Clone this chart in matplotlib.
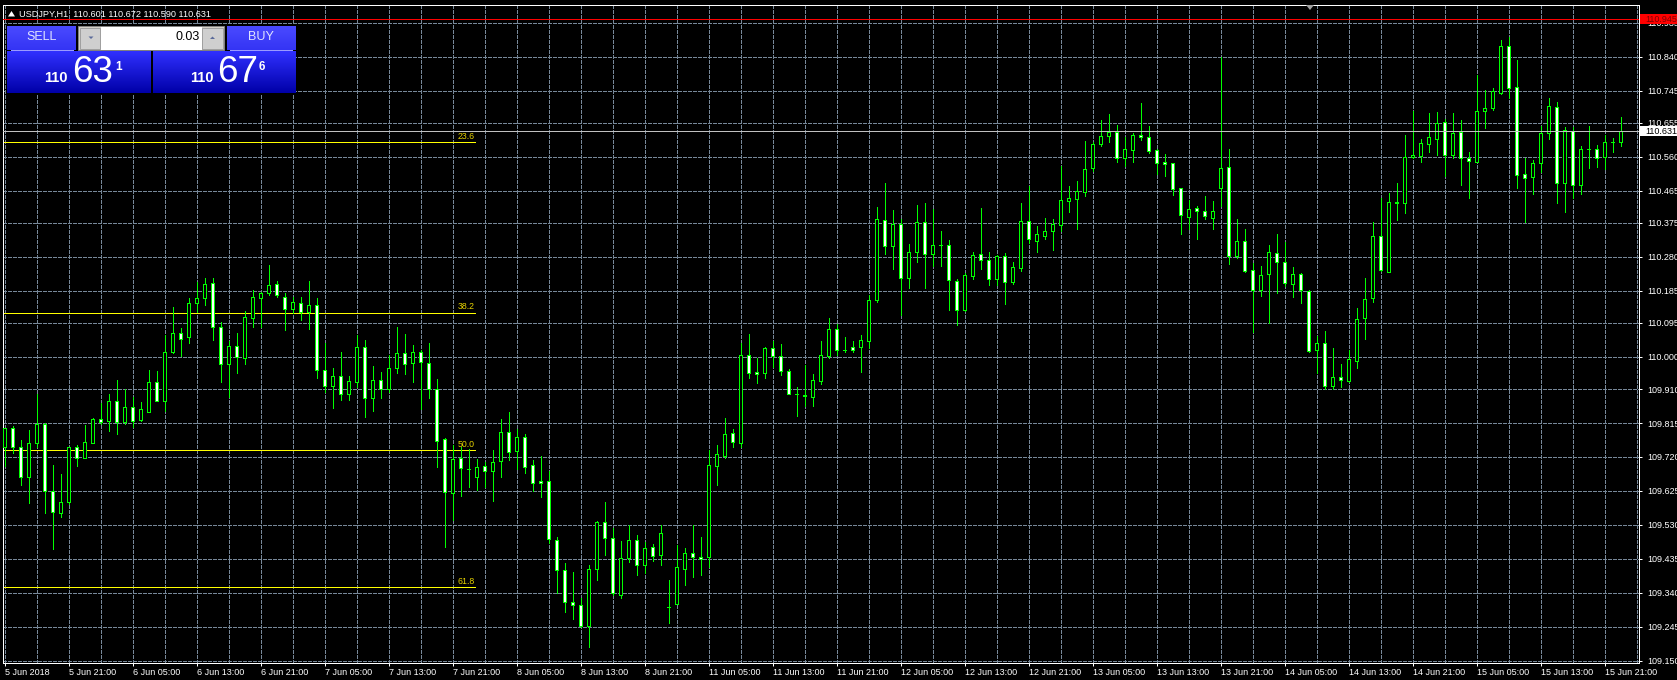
import matplotlib
matplotlib.use('Agg')
import matplotlib.pyplot as plt
from matplotlib.patches import Rectangle, Polygon
from matplotlib.transforms import blended_transform_factory
import numpy as np

plt.rcParams['font.family'] = ['Liberation Sans', 'DejaVu Sans']

# ---------------- data (USDJPY H1, 5 Jun 13:00 .. 15 Jun 23:00) ----------------
opens = [109.748, 109.800, 109.747, 109.664, 109.758, 109.811, 109.626, 109.564, 109.595, 109.747,
         109.717, 109.760, 109.827, 109.821, 109.878, 109.817, 109.859, 109.824, 109.846, 109.930,
         109.878, 110.013, 110.066, 110.055, 110.150, 110.164, 110.206, 110.083, 109.979, 110.030,
         109.996, 110.108, 110.164, 110.178, 110.203, 110.169, 110.133, 110.152, 110.127, 110.145,
         109.963, 109.919, 109.946, 109.895, 109.930, 110.029, 109.884, 109.935, 109.911, 109.970,
         110.010, 109.982, 110.013, 109.982, 109.909, 109.769, 109.618, 109.716, 109.687, 109.664,
         109.695, 109.682, 109.710, 109.791, 109.738, 109.776, 109.698, 109.652, 109.652, 109.489,
         109.405, 109.313, 109.307, 109.247, 109.408, 109.537, 109.492, 109.335, 109.436, 109.489,
         109.417, 109.467, 109.445, 109.300, 109.308, 109.408, 109.451, 109.439, 109.439, 109.696,
         109.724, 109.786, 109.760, 110.005, 109.957, 109.954, 110.024, 110.002, 109.960, 109.897,
         109.893, 109.889, 109.934, 110.003, 110.077, 110.020, 110.027, 110.027, 110.044, 110.158,
         110.382, 110.310, 110.371, 110.220, 110.293, 110.377, 110.287, 110.312, 110.312, 110.212,
         110.131, 110.227, 110.287, 110.270, 110.217, 110.283, 110.211, 110.250, 110.380, 110.325,
         110.339, 110.351, 110.368, 110.435, 110.441, 110.461, 110.528, 110.595, 110.619, 110.630,
         110.556, 110.578, 110.622, 110.616, 110.578, 110.545, 110.542, 110.472, 110.392, 110.416,
         110.408, 110.390, 110.474, 110.531, 110.282, 110.323, 110.242, 110.186, 110.231, 110.290,
         110.265, 110.203, 110.231, 110.184, 110.019, 110.038, 109.919, 109.945, 109.933, 109.989,
         110.108, 110.164, 110.337, 110.238, 110.434, 110.430, 110.559, 110.563, 110.595, 110.609,
         110.656, 110.564, 110.630, 110.556, 110.546, 110.687, 110.697, 110.739, 110.869, 110.754,
         110.511, 110.503, 110.542, 110.626, 110.699, 110.486, 110.631, 110.480, 110.583, 110.583,
         110.559, 110.602, 110.601]
highs = [109.801, 109.806, 109.767, 109.795, 109.896, 109.816, 109.697, 109.672, 109.748, 109.753,
         109.809, 109.828, 109.870, 109.896, 109.935, 109.909, 109.889, 109.873, 109.963, 109.960,
         110.060, 110.140, 110.080, 110.164, 110.211, 110.220, 110.220, 110.097, 110.045, 110.066,
         110.128, 110.187, 110.183, 110.257, 110.212, 110.178, 110.167, 110.167, 110.212, 110.164,
         110.038, 109.968, 110.013, 109.946, 110.061, 110.047, 109.975, 109.957, 110.005, 110.084,
         110.064, 110.034, 110.019, 110.038, 109.938, 109.774, 109.753, 109.748, 109.741, 109.713,
         109.707, 109.739, 109.826, 109.846, 109.798, 109.785, 109.711, 109.724, 109.681, 109.497,
         109.423, 109.398, 109.325, 109.418, 109.540, 109.594, 109.520, 109.486, 109.531, 109.501,
         109.483, 109.477, 109.531, 109.375, 109.474, 109.466, 109.530, 109.497, 109.739, 109.753,
         109.829, 109.797, 110.038, 110.064, 109.996, 110.029, 110.045, 110.036, 109.966, 109.915,
         109.977, 109.952, 110.045, 110.108, 110.092, 110.055, 110.045, 110.061, 110.173, 110.420,
         110.486, 110.411, 110.385, 110.316, 110.425, 110.430, 110.413, 110.352, 110.327, 110.217,
         110.236, 110.293, 110.417, 110.293, 110.285, 110.290, 110.266, 110.430, 110.479, 110.366,
         110.389, 110.385, 110.534, 110.478, 110.493, 110.604, 110.602, 110.663, 110.680, 110.649,
         110.615, 110.626, 110.710, 110.646, 110.582, 110.568, 110.543, 110.474, 110.439, 110.422,
         110.450, 110.436, 110.838, 110.582, 110.386, 110.358, 110.262, 110.254, 110.313, 110.344,
         110.322, 110.251, 110.234, 110.187, 110.058, 110.073, 110.024, 109.980, 110.019, 110.136,
         110.220, 110.377, 110.444, 110.458, 110.486, 110.620, 110.688, 110.610, 110.682, 110.685,
         110.666, 110.682, 110.662, 110.573, 110.788, 110.746, 110.752, 110.887, 110.896, 110.831,
         110.557, 110.551, 110.647, 110.724, 110.713, 110.643, 110.644, 110.590, 110.646, 110.593,
         110.621, 110.613, 110.672]
lows = [109.695, 109.731, 109.641, 109.592, 109.748, 109.564, 109.463, 109.551, 109.588, 109.695,
        109.717, 109.760, 109.812, 109.793, 109.785, 109.812, 109.804, 109.821, 109.846, 109.878,
        109.849, 110.010, 110.002, 110.038, 110.127, 110.145, 110.047, 109.931, 109.887, 109.956,
        109.980, 110.085, 110.085, 110.173, 110.169, 110.074, 110.124, 110.103, 110.078, 109.942,
        109.903, 109.858, 109.879, 109.879, 109.917, 109.833, 109.849, 109.886, 109.903, 109.954,
        109.952, 109.931, 109.853, 109.886, 109.692, 109.467, 109.543, 109.611, 109.635, 109.627,
        109.635, 109.597, 109.664, 109.711, 109.686, 109.675, 109.625, 109.609, 109.479, 109.339,
        109.287, 109.267, 109.245, 109.189, 109.375, 109.445, 109.334, 109.326, 109.427, 109.390,
        109.396, 109.430, 109.418, 109.255, 109.308, 109.362, 109.383, 109.390, 109.412, 109.642,
        109.718, 109.747, 109.749, 109.940, 109.928, 109.940, 109.971, 109.949, 109.895, 109.835,
        109.863, 109.863, 109.924, 109.998, 110.005, 110.015, 110.015, 109.958, 110.024, 110.155,
        110.288, 110.246, 110.117, 110.194, 110.267, 110.194, 110.255, 110.255, 110.131, 110.089,
        110.129, 110.218, 110.246, 110.201, 110.201, 110.149, 110.204, 110.241, 110.320, 110.294,
        110.330, 110.299, 110.353, 110.406, 110.357, 110.450, 110.520, 110.590, 110.602, 110.546,
        110.535, 110.546, 110.607, 110.571, 110.511, 110.506, 110.453, 110.344, 110.357, 110.330,
        110.386, 110.358, 110.423, 110.260, 110.276, 110.238, 110.071, 110.171, 110.094, 110.178,
        110.199, 110.169, 110.152, 110.015, 109.954, 109.909, 109.909, 109.917, 109.931, 109.968,
        110.049, 110.155, 110.241, 110.238, 110.383, 110.403, 110.556, 110.546, 110.574, 110.565,
        110.507, 110.556, 110.481, 110.446, 110.546, 110.641, 110.691, 110.736, 110.725, 110.474,
        110.378, 110.456, 110.518, 110.611, 110.432, 110.406, 110.444, 110.455, 110.528, 110.531,
        110.525, 110.574, 110.590]
closes = [109.800, 109.747, 109.664, 109.758, 109.811, 109.626, 109.567, 109.595, 109.747, 109.717,
          109.763, 109.825, 109.819, 109.878, 109.817, 109.859, 109.821, 109.853, 109.929, 109.878,
          110.013, 110.066, 110.050, 110.150, 110.164, 110.203, 110.083, 109.979, 110.030, 110.000,
          110.113, 110.167, 110.178, 110.201, 110.173, 110.133, 110.154, 110.127, 110.145, 109.963,
          109.918, 109.946, 109.895, 109.932, 110.029, 109.884, 109.935, 109.911, 109.968, 110.010,
          109.979, 110.013, 109.985, 109.909, 109.766, 109.621, 109.713, 109.688, 109.686, 109.693,
          109.682, 109.706, 109.791, 109.733, 109.776, 109.693, 109.647, 109.647, 109.490, 109.405,
          109.313, 109.305, 109.247, 109.408, 109.537, 109.492, 109.339, 109.436, 109.489, 109.417,
          109.465, 109.443, 109.507, 109.301, 109.411, 109.451, 109.439, 109.434, 109.697, 109.727,
          109.783, 109.763, 110.005, 109.954, 109.951, 110.024, 110.003, 109.960, 109.895, 109.897,
          109.891, 109.935, 110.005, 110.077, 110.019, 110.020, 110.019, 110.047, 110.159, 110.385,
          110.310, 110.371, 110.220, 110.293, 110.378, 110.287, 110.312, 110.312, 110.214, 110.131,
          110.229, 110.285, 110.270, 110.217, 110.283, 110.211, 110.251, 110.380, 110.329, 110.343,
          110.351, 110.371, 110.438, 110.444, 110.463, 110.525, 110.595, 110.619, 110.630, 110.556,
          110.581, 110.620, 110.615, 110.575, 110.542, 110.539, 110.469, 110.396, 110.413, 110.408,
          110.393, 110.408, 110.528, 110.282, 110.323, 110.241, 110.186, 110.228, 110.293, 110.265,
          110.206, 110.231, 110.186, 110.016, 110.038, 109.919, 109.943, 109.935, 109.993, 110.105,
          110.161, 110.337, 110.243, 110.434, 110.430, 110.559, 110.564, 110.598, 110.615, 110.654,
          110.564, 110.626, 110.556, 110.547, 110.687, 110.696, 110.743, 110.869, 110.752, 110.508,
          110.500, 110.542, 110.626, 110.701, 110.486, 110.634, 110.481, 110.581, 110.583, 110.556,
          110.600, 110.601, 110.631]

time_labels = ['5 Jun 2018', '5 Jun 21:00', '6 Jun 05:00', '6 Jun 13:00', '6 Jun 21:00',
               '7 Jun 05:00', '7 Jun 13:00', '7 Jun 21:00', '8 Jun 05:00', '8 Jun 13:00',
               '8 Jun 21:00', '11 Jun 05:00', '11 Jun 13:00', '11 Jun 21:00', '12 Jun 05:00',
               '12 Jun 13:00', '12 Jun 21:00', '13 Jun 05:00', '13 Jun 13:00', '13 Jun 21:00',
               '14 Jun 05:00', '14 Jun 13:00', '14 Jun 21:00', '15 Jun 05:00', '15 Jun 13:00',
               '15 Jun 21:00']
bars_per_label = 8
bars_per_grid = 4
price_labels = ['109.150', '109.245', '109.340', '109.435', '109.530', '109.625', '109.720',
                '109.815', '109.910', '110.000', '110.095', '110.185', '110.280', '110.375',
                '110.465', '110.560', '110.655', '110.745', '110.840', '110.935']
fib_names = ['23.6', '38.2', '50.0', '61.8']
fib_prices = [110.600, 110.124, 109.739, 109.355]
bid_price = 110.631
alert_price = 110.945
symbol = 'USDJPY,H1'
ohlc_text = '110.601 110.672 110.590 110.631'
lot_size = '0.03'
sell_parts = ('110', '63', '1')
buy_parts = ('110', '67', '6')

# ---------------- figure ----------------
W, H = 1677, 680
DPI = 100
fig = plt.figure(figsize=(W / DPI, H / DPI), dpi=DPI, facecolor='black')
PX = 72.0 / DPI  # one pixel in points

L, R, T, B = 3, 1639, 5, 663
ax = fig.add_axes([L / W, (H - B) / H, (R - L) / W, (B - T) / H])
ax.set_facecolor('black')
n = len(opens)
x = np.arange(n)
ax.set_xlim(-0.1875, 204.31)
ax.set_ylim(109.1436, 110.9847)

GREEN = '#00ff00'
GRID = '#778899'

# grid
yt = [float(v) for v in price_labels]
for v in yt:
    ax.axhline(v, color=GRID, lw=PX, ls=(0, (3, 2)), zorder=1, antialiased=False)
for g in range(0, 205, bars_per_grid):
    ax.axvline(g, color=GRID, lw=PX, ls=(0, (3, 2)), zorder=1, antialiased=False)

# fibonacci levels
fib_end = 58.8
for name, p in zip(fib_names, fib_prices):
    ax.plot([-1, fib_end], [p, p], color='#ffff00', lw=PX, zorder=2, antialiased=False)
    ax.text(fib_end, p + 0.0045, name, ha='right', va='bottom', color='#e6d200',
            fontsize=6.3, zorder=2)

# candles
o = np.array(opens); h = np.array(highs); lo = np.array(lows); c = np.array(closes)
ax.vlines(x, lo, h, colors=GREEN, lw=PX, zorder=3, antialiased=False)
bw = 0.42
for i in range(n):
    bottom = min(o[i], c[i])
    height = abs(c[i] - o[i])
    fc = 'white' if c[i] < o[i] else 'black'
    ax.add_patch(Rectangle((i - bw / 2, bottom), bw, height, facecolor=fc,
                           edgecolor=GREEN, lw=PX, zorder=4, antialiased=False))

# bid and alert lines
ax.axhline(bid_price, color='#c0c0c0', lw=PX, zorder=5, antialiased=False)
ax.axhline(alert_price, color='#ff0000', lw=PX, zorder=5, antialiased=False)

# axes styling
for s in ax.spines.values():
    s.set_color('white')
    s.set_linewidth(PX)
ax.yaxis.tick_right()
ax.set_yticks(yt)
ax.set_yticklabels(price_labels)
ax.set_xticks(np.arange(0, bars_per_label * len(time_labels), bars_per_label))
ax.set_xticklabels(time_labels, ha='left')
ax.tick_params(axis='y', colors='white', length=3 * PX * 1.0, width=PX, pad=3.5,
               labelsize=6.5, direction='out')
ax.tick_params(axis='x', colors='white', length=3 * PX, width=PX, pad=1.5,
               labelsize=6.5, direction='out')
for lab in ax.get_xticklabels():
    lab.set_clip_on(False)

# price boxes on the axis
bt = blended_transform_factory(ax.transAxes, ax.transData)
ppx = (B - T) / (110.9847 - 109.1436)
half = 5.0 / ppx
ax.add_patch(Rectangle((1.0004, alert_price - half), 0.03, 2 * half, transform=bt,
                       facecolor='#ff0000', edgecolor='none', clip_on=False, zorder=10))
ax.text(1.0040, alert_price, '110.945', transform=bt, color='#800000', fontsize=6.5,
        va='center', ha='left', clip_on=False, zorder=11)
ax.add_patch(Rectangle((1.0004, bid_price - half), 0.03, 2 * half, transform=bt,
                       facecolor='white', edgecolor='none', clip_on=False, zorder=10))
ax.text(1.0040, bid_price, '%.3f' % bid_price, transform=bt, color='black', fontsize=6.5,
        va='center', ha='left', clip_on=False, zorder=11)

# ---------------- overlay (pixel coordinates) ----------------
ov = fig.add_axes([0, 0, 1, 1], zorder=20)
ov.patch.set_alpha(0)
ov.axis('off')

def grad(x0, y0, x1, y1, ctop, cbot):
    ct = np.array(matplotlib.colors.to_rgb(ctop)); cb = np.array(matplotlib.colors.to_rgb(cbot))
    t = np.linspace(0, 1, 64)[:, None]
    img = (ct[None, :] * (1 - t) + cb[None, :] * t)[:, None, :]
    ov.imshow(img, extent=[x0, x1, y1, y0], origin='upper', aspect='auto',
              interpolation='bilinear', zorder=21)

# title
ov.add_patch(Polygon([[8, 16.5], [15, 16.5], [11.5, 11]], closed=True, facecolor='white',
                     edgecolor='none', zorder=22))
ov.text(19.5, 14, symbol + '  ' + ohlc_text, color='white', fontsize=6.6, va='center',
        ha='left', zorder=22)
# shift marker
ov.add_patch(Polygon([[1306, 5], [1314, 5], [1310, 10]], closed=True, facecolor='#a0a0a0',
                     edgecolor='none', zorder=22))

# one-click panel
ov.add_patch(Rectangle((6, 25), 290, 69, facecolor='black', edgecolor='none', zorder=20.5))
grad(7.3, 26.7, 76, 50, '#4a4aff', '#3434f4')
grad(226.7, 26.7, 295.3, 50, '#4a4aff', '#3434f4')
grad(7.3, 51.7, 150.7, 93.3, '#3030ff', '#0000a8')
grad(152.7, 51.7, 295.3, 93.3, '#3030ff', '#0000a8')
ov.plot([11, 72.7], [50.3, 50.3], color='#9a9aff', lw=PX, zorder=22)
ov.plot([230.5, 292], [50.3, 50.3], color='#9a9aff', lw=PX, zorder=22)
ov.text(41.7, 37.5, 'SELL', color='#e0e4ff', fontsize=9, ha='center', va='center', zorder=22)
ov.text(261, 37.5, 'BUY', color='#e0e4ff', fontsize=9, ha='center', va='center', zorder=22)
# spin box
ov.add_patch(Rectangle((78.5, 26.2), 146, 24, facecolor='#d4d0c8', edgecolor='#808080',
                       lw=PX, zorder=21))
ov.add_patch(Rectangle((80.5, 27.5), 20, 21.5, facecolor='#cfcfcf', edgecolor='#a0a0a0',
                       lw=PX, zorder=22))
ov.add_patch(Rectangle((202.3, 27.5), 20.5, 21.5, facecolor='#cfcfcf', edgecolor='#a0a0a0',
                       lw=PX, zorder=22))
ov.add_patch(Rectangle((101.5, 27.0), 100.5, 22.5, facecolor='white', edgecolor='none',
                       zorder=22))
ov.add_patch(Polygon([[88.5, 36.5], [93.5, 36.5], [91, 39]], closed=True, facecolor='#5a6a9a',
                     edgecolor='none', zorder=23))
ov.add_patch(Polygon([[210, 39], [215, 39], [212.5, 36.5]], closed=True, facecolor='#5a6a9a',
                     edgecolor='none', zorder=23))
ov.text(199.5, 37, lot_size, color='black', fontsize=9, ha='right', va='center', zorder=23)

def price_block(x_small, x_big, x_sup, parts):
    ov.text(x_small, 81.7, parts[0], color='white', fontsize=10.5, fontweight='bold',
            ha='left', va='baseline', zorder=23)
    ov.text(x_big, 81.7, parts[1], color='white', fontsize=26.5, ha='left', va='baseline',
            zorder=23)
    ov.text(x_sup, 70, parts[2], color='white', fontsize=8.5, fontweight='bold', ha='left',
            va='baseline', zorder=23)

price_block(44.5, 72, 115, sell_parts)
price_block(190.5, 217.5, 259, buy_parts)

ov.set_xlim(0, W)
ov.set_ylim(H, 0)

fig.savefig('out.png', dpi=DPI, facecolor='black')
